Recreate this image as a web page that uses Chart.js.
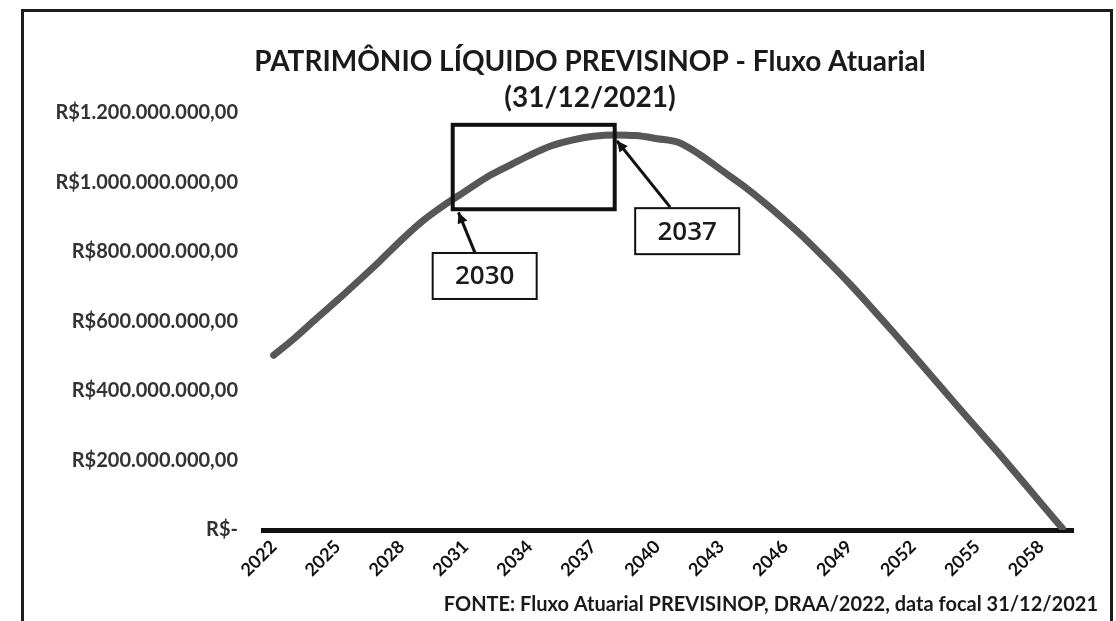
<!DOCTYPE html>
<html>
<head>
<meta charset="utf-8">
<script src="https://cdn.jsdelivr.net/npm/chart.js@4.4.1/dist/chart.umd.min.js"></script>
<style>
  html, body { margin: 0; padding: 0; background: #fff; }
  #wrap { position: relative; width: 1116px; height: 621px; overflow: hidden; }
  #frame { position: absolute; left: 21px; top: 9px; width: 1086px; height: 650px; border: 3px solid #1c1c1c; }
  canvas { position: absolute; left: 0; top: 0; }
</style>
</head>
<body>
<div id="wrap">
  <div id="frame"></div>
  <canvas id="chart" width="1116" height="621"></canvas>
</div>
<script>
// anos do fluxo atuarial
const anos = [
  "2022", "2023", "2024", "2025", "2026", "2027", "2028", "2029", "2030", "2031",
  "2032", "2033", "2034", "2035", "2036", "2037", "2038", "2039", "2040", "2041",
  "2042", "2043", "2044", "2045", "2046", "2047", "2048", "2049", "2050", "2051",
  "2052", "2053", "2054", "2055", "2056", "2057", "2058", "2059"
];

// patrimonio liquido estimado (R$ milhoes)
const patrimonioMilhoes = [
  503, 553, 608, 662, 718, 775, 835, 890, 935, 975,
  1015, 1047, 1078, 1105, 1122, 1133, 1137, 1135, 1126, 1115,
  1080, 1036, 992, 943, 890, 834, 773, 710, 643, 574,
  504, 433, 362, 292, 222, 150, 77, 5
];

const eixoY = [0, 200e6, 400e6, 600e6, 800e6, 1000e6, 1200e6];

const titulo = ["PATRIMÔNIO LÍQUIDO PREVISINOP - Fluxo Atuarial", "(31/12/2021)"];
const fonte = "FONTE: Fluxo Atuarial PREVISINOP, DRAA/2022, data focal 31/12/2021";

// destaques (ano, valor)
const destaque = { anoIni: 2030.4, anoFim: 2038.0, topo: 1166e6, base: 923e6 };
const rotulos = [
  { texto: "2030", ano: 2031.9, valor: 731e6, de: [2031.47, 794e6], para: [2030.67, 914e6] },
  { texto: "2037", ano: 2041.4, valor: 860e6, de: [2040.6, 929e6], para: [2038.1, 1120e6] }
];

function formatarReal(v) {
  if (v === 0) {
    return "R$-";
  }
  return "R$" + Math.round(v).toString().replace(/\B(?=(\d{3})+(?!\d))/g, ".") + ",00";
}

function seta(ctx, x1, y1, x2, y2) {
  ctx.beginPath();
  ctx.moveTo(x1, y1);
  ctx.lineTo(x2, y2);
  ctx.stroke();
  const ang = Math.atan2(y2 - y1, x2 - x1);
  ctx.beginPath();
  ctx.moveTo(x2, y2);
  ctx.lineTo(x2 - 12 * Math.cos(ang - 0.45), y2 - 12 * Math.sin(ang - 0.45));
  ctx.lineTo(x2 - 12 * Math.cos(ang + 0.45), y2 - 12 * Math.sin(ang + 0.45));
  ctx.closePath();
  ctx.fill();
}

const textos = {
  id: "textos",
  afterDraw(chart) {
    const ctx = chart.ctx;
    ctx.save();
    ctx.fillStyle = "#1a1a1a";
    ctx.textAlign = "center";
    ctx.textBaseline = "middle";
    ctx.font = "bold 28px Lato";
    ctx.fillText(titulo[0], 590, 62);
    ctx.fillText(titulo[1], 590, 98);
    ctx.textAlign = "right";
    ctx.font = "bold 20px Lato";
    ctx.fillText(fonte, 1098, 605);
    ctx.restore();
  }
};

const anotacoes = {
  id: "anotacoes",
  afterDatasetsDraw(chart) {
    const ctx = chart.ctx;
    const xs = chart.scales.x;
    const ys = chart.scales.y;
    const px = (ano) => xs.getPixelForValue(ano - 2022);
    ctx.save();
    ctx.strokeStyle = "#111";
    ctx.fillStyle = "#111";

    ctx.lineWidth = 4;
    const x1 = px(destaque.anoIni);
    const x2 = px(destaque.anoFim);
    const y1 = ys.getPixelForValue(destaque.topo);
    const y2 = ys.getPixelForValue(destaque.base);
    ctx.strokeRect(x1, y1, x2 - x1, y2 - y1);

    rotulos.forEach((r) => {
      ctx.lineWidth = 3;
      seta(ctx, px(r.de[0]), ys.getPixelForValue(r.de[1]), px(r.para[0]), ys.getPixelForValue(r.para[1]));
      const cx = px(r.ano);
      const cy = ys.getPixelForValue(r.valor);
      ctx.fillStyle = "#fff";
      ctx.fillRect(cx - 52, cy - 23, 104, 46);
      ctx.lineWidth = 2;
      ctx.strokeRect(cx - 52, cy - 23, 104, 46);
      ctx.fillStyle = "#1a1a1a";
      ctx.font = "600 26px 'Open Sans'";
      ctx.textAlign = "center";
      ctx.textBaseline = "middle";
      ctx.fillText(r.texto, cx, cy + 1);
      ctx.fillStyle = "#111";
    });
    ctx.restore();
  }
};

new Chart(document.getElementById("chart").getContext("2d"), {
  type: "line",
  data: {
    labels: anos,
    datasets: [
      {
        label: "Patrimônio Líquido",
        data: patrimonioMilhoes.map((v) => v * 1e6),
        borderColor: "#575757",
        borderWidth: 7,
        borderCapStyle: "round",
        pointRadius: 0,
        cubicInterpolationMode: "monotone",
        fill: false
      }
    ]
  },
  options: {
    responsive: false,
    animation: false,
    devicePixelRatio: 1,
    layout: { padding: { left: 23, right: 43, top: 113, bottom: 0 } },
    plugins: {
      legend: { display: false },
      tooltip: { enabled: false }
    },
    scales: {
      x: {
        offset: true,
        grid: { display: false, drawTicks: false },
        border: { display: true, color: "#111", width: 5 },
        ticks: {
          autoSkip: false,
          maxRotation: 45,
          minRotation: 45,
          padding: 6,
          color: "#111",
          font: { family: "Lato", size: 18, weight: "bold" },
          callback: (v, i) => (i % 3 === 0 ? anos[i] : "")
        },
        afterFit: (s) => { s.height = 91; }
      },
      y: {
        min: 0,
        max: eixoY[eixoY.length - 1],
        afterBuildTicks: (s) => { s.ticks = eixoY.map((v) => ({ value: v })); },
        grid: { display: false, drawTicks: false },
        border: { display: false },
        ticks: {
          padding: 25,
          color: "#333",
          font: { family: "Lato", size: 20, weight: "bold" },
          callback: (v) => formatarReal(v)
        },
        afterFit: (s) => { s.width = 240; }
      }
    }
  },
  plugins: [anotacoes, textos]
});
</script>
</body>
</html>
